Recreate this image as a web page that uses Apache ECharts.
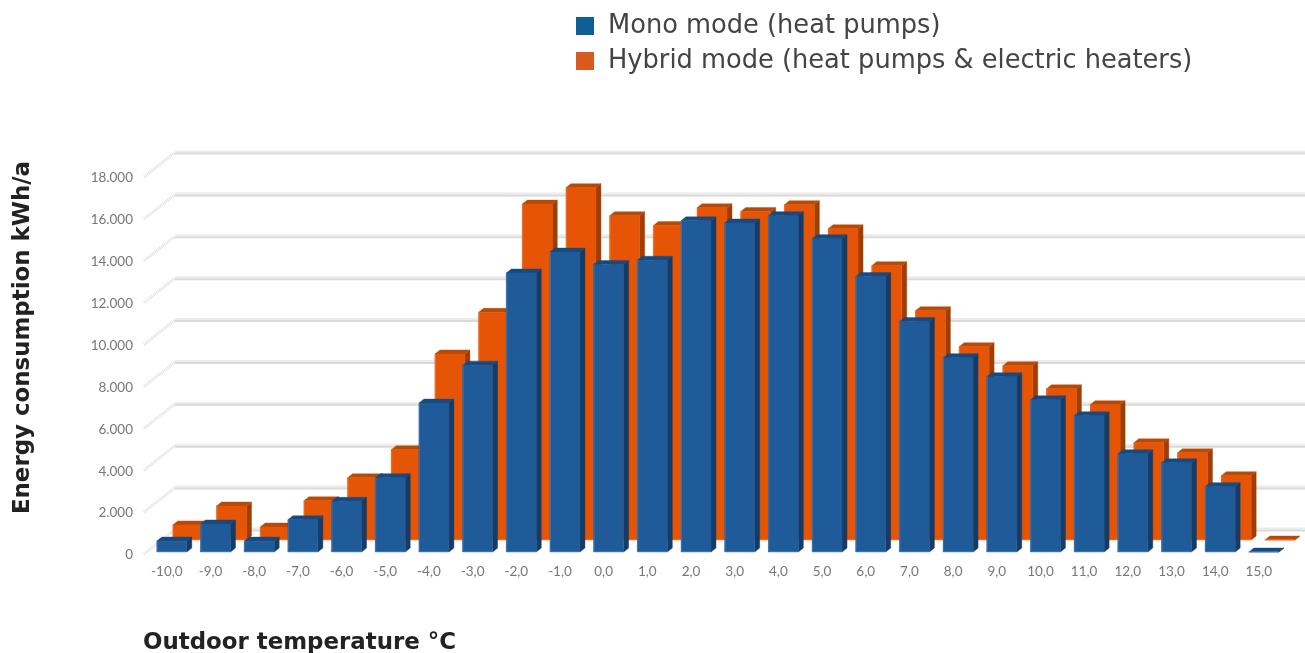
<!DOCTYPE html>
<html>
<head>
<meta charset="utf-8">
<style>
html,body{margin:0;padding:0;background:#fff}
#c{width:1305px;height:653px;filter:blur(0.65px)}
</style>
<script src="https://cdn.jsdelivr.net/npm/echarts@6/dist/echarts.min.js"></script>
</head>
<body>
<div id="c"></div>
<script>
const categories = ['-10,0','-9,0','-8,0','-7,0','-6,0','-5,0','-4,0','-3,0','-2,0','-1,0','0,0','1,0','2,0','3,0','4,0','5,0','6,0','7,0','8,0','9,0','10,0','11,0','12,0','13,0','14,0','15,0'];
const monoValues = [520,1340,520,1540,2420,3550,7110,8920,13320,14320,13730,13930,15810,15710,16060,14960,13150,11000,9280,8370,7270,6510,4690,4260,3120,0];
const hybridValues = [720,1620,620,1870,2970,4310,8880,10870,16040,16820,15480,15010,15860,15680,16010,14860,13100,10950,9230,8320,7220,6460,4640,4160,3070,0];
const yTicks = [0,2000,4000,6000,8000,10000,12000,14000,16000,18000];

const chart = echarts.init(document.getElementById('c'), null, {renderer:'canvas'});

function poly(points, fill){
  return {type:'polygon', shape:{points:points}, style:{fill:fill, stroke:fill, lineWidth:0.4}, silent:true};
}
function barRenderer(shiftX, shiftY, front, top, side, edge){
  return function(params, api){
    const p = api.coord([api.value(0), api.value(1)]);
    const base = api.coord([api.value(0), 0]);
    const w = 30, dx = 5, dy = 4;
    const x0 = p[0] + shiftX - w/2, x1 = x0 + w;
    const yt = p[1] + shiftY, yb = base[1] + shiftY;
    return {type:'group', children:[
      poly([[x1,yt],[x1+dx,yt-dy],[x1+dx,yb-dy],[x1,yb]], side),
      poly([[x0,yt],[x0+dx,yt-dy],[x1+dx,yt-dy],[x1,yt]], top),
      poly([[x0,yt],[x1,yt],[x1,yb],[x0,yb]], front),
      {type:'line', shape:{x1:x0+0.5,y1:yt,x2:x0+0.5,y2:yb}, style:{stroke:edge,lineWidth:1}, silent:true},
      {type:'line', shape:{x1:x0,y1:yb-0.5,x2:x1,y2:yb-0.5}, style:{stroke:edge,lineWidth:1}, silent:true}
    ]};
  };
}
function wallRenderer(params, api){
  const p = api.coord([0, api.value(0)]);
  const left = params.coordSys.x, wx = left + 30, wy = p[1] - 22.5, sx = left - 1, sy = p[1] + 2;
  return {type:'group', children:[
    {type:'line', shape:{x1:sx,y1:sy,x2:wx,y2:wy}, style:{stroke:'#dcdcdc',lineWidth:3,lineDash:[1,1]}, silent:true},
    {type:'line', shape:{x1:wx,y1:wy-1,x2:1305,y2:wy-1}, style:{stroke:'#ececec',lineWidth:2}, silent:true},
    {type:'line', shape:{x1:wx,y1:wy+1,x2:1305,y2:wy+1}, style:{stroke:'#dadada',lineWidth:2}, silent:true}
  ]};
}

chart.setOption({
  animation:false,
  backgroundColor:'#fff',
  grid:{left:145, top:175, width:1135.7, height:377, containLabel:false, outerBoundsMode:'none'},
  legend:{
    orient:'vertical', left:571, top:8, itemWidth:18, itemHeight:18, itemGap:9, icon:'rect',
    data:['Mono mode (heat pumps)','Hybrid mode (heat pumps & electric heaters)'],
    textStyle:{fontFamily:'DejaVu Sans',fontSize:25.7,color:'#444',padding:[0,0,0,9]}
  },
  xAxis:{
    type:'category', data:categories, boundaryGap:true,
    axisLine:{show:false}, axisTick:{show:false}, splitLine:{show:false},
    axisLabel:{color:'#777',fontSize:13.5,fontFamily:'Lato',margin:13,interval:0},
    name:'Outdoor temperature °C', nameLocation:'start', nameGap:2,
    nameTextStyle:{fontFamily:'DejaVu Sans',fontWeight:'bold',fontSize:22.9,color:'#222',align:'left',verticalAlign:'top',padding:[80,0,0,0]}
  },
  yAxis:{
    type:'value', min:0, max:18000, interval:2000,
    axisLine:{show:false}, axisTick:{show:false}, splitLine:{show:false},
    axisLabel:{color:'#777',fontSize:13.5,fontFamily:'Lato',margin:12,verticalAlign:'top',lineHeight:6,formatter:v=>String(v).replace(/(\d)(?=\d{3}$)/,'$1.')},
    name:'Energy consumption kWh/a', nameLocation:'middle', nameRotate:90, nameGap:110,
    nameTextStyle:{fontFamily:'DejaVu Sans',fontWeight:'bold',fontSize:22.9,color:'#222',padding:[0,0,0,52]}
  },
  series:[
    {type:'custom', name:'wall', silent:true, clip:false, renderItem:wallRenderer, data:yTicks.map(v=>[v]), encode:{y:0}, z:1, legendHoverLink:false},
    {type:'custom', name:'Hybrid mode (heat pumps & electric heaters)', clip:false, itemStyle:{color:'#d95a1e'}, z:2,
      renderItem:barRenderer(21,-12,'#e65505','#b84a05','#a03e02','#f06a1e'),
      encode:{x:0,y:1}, data:hybridValues.map((v,i)=>[i,v])},
    {type:'custom', name:'Mono mode (heat pumps)', clip:false, itemStyle:{color:'#0f5e96'}, z:3,
      renderItem:barRenderer(5,0,'#1f5a99','#174a80','#153c68','#3a72ac'),
      encode:{x:0,y:1}, data:monoValues.map((v,i)=>[i,v])}
  ]
});
</script>
</body>
</html>
